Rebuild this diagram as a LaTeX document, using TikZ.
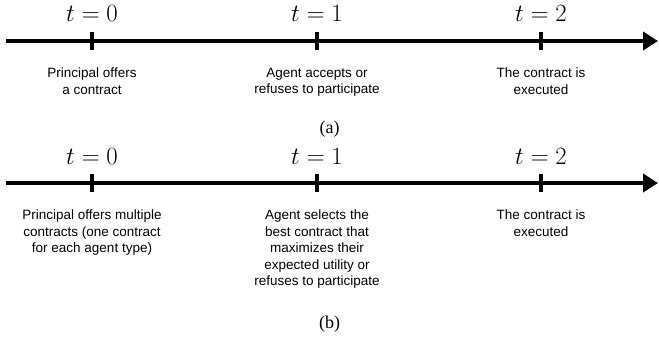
\documentclass[tikz,border=0pt]{standalone}
\usepackage{amsmath}
\usepackage{fontspec}
\setsansfont{Liberation Sans}
\newfontfamily\capfont{Liberation Serif}
\usepackage{tikz}
\usetikzlibrary{arrows.meta}
\usepackage{xcolor}

\begin{document}
\begin{tikzpicture}[x=1bp,y=-1bp,
    timeline/.style={line width=4bp, -{Triangle[length=15bp,width=18bp]}},
    tickmark/.style={line width=3.5bp},
    timelabel/.style={anchor=base, inner sep=0pt, font=\fontsize{24bp}{28bp}\selectfont},
    event/.style={anchor=north, inner sep=0pt, align=center, font=\sffamily\fontsize{13.5bp}{16.5bp}\selectfont},
    caption/.style={anchor=base, inner sep=0pt, font=\capfont\fontsize{18bp}{22bp}\selectfont}]
                \useasboundingbox (0,0) rectangle (659,341);

                % (a) timeline
                \coordinate (astart) at (6,41);
                \coordinate (aend) at (658,41);
                \coordinate (a0) at (92,41);
                \coordinate (a1) at (317,41);
                \coordinate (a2) at (541,41);
                \draw[timeline] (astart) -- (aend);
                \draw[tickmark] ([yshift=9bp]a0) -- ([yshift=-9bp]a0);
                \draw[tickmark] ([yshift=9bp]a1) -- ([yshift=-9bp]a1);
                \draw[tickmark] ([yshift=9bp]a2) -- ([yshift=-9bp]a2);

                \node[timelabel] (ta0) at (92,21) {$t=0$};
                \node[timelabel] (ta1) at (317,21) {$t=1$};
                \node[timelabel] (ta2) at (541,21) {$t=2$};

                \node[event] (ea0) at (92,67.7) {Principal offers\\a contract};
                \node[event] (ea1) at (317,67.7) {Agent accepts or\\refuses to participate};
                \node[event] (ea2) at (541,67.7) {The contract is\\executed};

                \node[caption] (capa) at (329.5,133) {(a)};

                % (b) timeline
                \coordinate (bstart) at (6,183);
                \coordinate (bend) at (658,183);
                \coordinate (b0) at (92,183);
                \coordinate (b1) at (317,183);
                \coordinate (b2) at (541,183);
                \draw[timeline] (bstart) -- (bend);
                \draw[tickmark] ([yshift=9bp]b0) -- ([yshift=-9bp]b0);
                \draw[tickmark] ([yshift=9bp]b1) -- ([yshift=-9bp]b1);
                \draw[tickmark] ([yshift=9bp]b2) -- ([yshift=-9bp]b2);

                \node[timelabel] (tb0) at (92,164) {$t=0$};
                \node[timelabel] (tb1) at (317,164) {$t=1$};
                \node[timelabel] (tb2) at (541,164) {$t=2$};

                \node[event] (eb0) at (92,209.7) {Principal offers multiple\\contracts (one contract\\for each agent type)};
                \node[event] (eb1) at (317,209.7) {Agent selects the\\best contract that\\maximizes their\\expected utility or\\refuses to participate};
                \node[event] (eb2) at (541,209.7) {The contract is\\executed};

                \node[caption] (capb) at (329.5,328) {(b)};
\end{tikzpicture}
\end{document}
